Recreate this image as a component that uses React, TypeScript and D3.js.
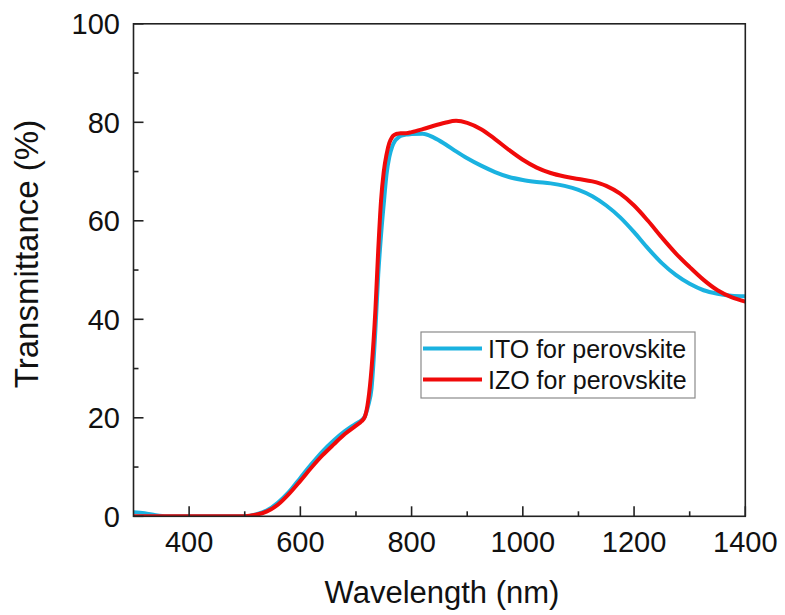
import React from "react";
import * as d3 from "d3";

// Wavelength grid (nm) shared by both spectra
const wavelengths = [
  300, 320, 340, 360, 400, 500, 520, 540, 560, 580, 600, 620, 640, 660, 680, 700, 710, 716, 722, 728,
  735, 740, 745, 750, 755, 760, 765, 770, 775, 780, 790, 800, 820, 840, 860, 880, 900, 925, 950, 975,
  1000, 1025, 1050, 1075, 1100, 1125, 1150, 1175, 1200, 1225, 1250, 1275, 1300, 1325, 1350, 1375, 1400,
];

// Transmittance (%) — ITO for perovskite
const itoValues = [
  0.8, 0.6, 0.2, 0, 0, 0, 0.4, 1.2, 2.8, 5.0, 7.8, 10.6, 13.2, 15.4, 17.3, 18.8, 19.5, 20.3, 22.5, 26,
  38, 49, 57, 63.5, 69.5, 73, 75, 76.2, 76.8, 77.2, 77.5, 77.6, 77.7, 76.9, 75.6, 74.1, 72.7, 71.2, 69.9, 68.9,
  68.3, 67.9, 67.6, 67.1, 66.3, 65.0, 63.1, 60.7, 57.7, 54.4, 51.4, 49.0, 47.2, 45.9, 45.2, 44.8, 44.7,
];

// Transmittance (%) — IZO for perovskite
const izoValues = [
  0, 0, 0, 0, 0, 0, 0.3, 1.0, 2.4, 4.6, 7.2, 9.9, 12.4, 14.6, 16.7, 18.4, 19.3, 20.2, 23.5, 30,
  42, 54, 64, 70, 73.5, 75.8, 77, 77.5, 77.7, 77.8, 77.8, 78.0, 78.6, 79.3, 79.9, 80.3, 79.9, 78.6, 76.6, 74.4,
  72.4, 70.8, 69.7, 69.0, 68.5, 68.0, 67.1, 65.5, 63.1, 60.0, 56.6, 53.4, 50.6, 48.0, 45.9, 44.5, 43.6,
];

const xMajorTicks = [400, 600, 800, 1000, 1200, 1400];
const xMinorTicks = [500, 700, 900, 1100, 1300];
const yMajorTicks = [0, 20, 40, 60, 80, 100];
const yMinorTicks = [10, 30, 50, 70, 90];

const seriesNames = ["ITO for perovskite", "IZO for perovskite"];
const seriesColors = ["#1ab2e0", "#f00a0a"];

const FONT = "Arial, 'Liberation Sans', Helvetica, sans-serif";

export default function App() {
  const width = 785;
  const height = 615;
  const left = 133.5;
  const right = 745.3;
  const top = 23.8;
  const bottom = 516.3;

  const x = d3.scaleLinear().domain([300, 1400]).range([left, right]);
  const y = d3.scaleLinear().domain([0, 100]).range([bottom, top]);

  const line = d3
    .line<number>()
    .x((_, i) => x(wavelengths[i]))
    .y((d) => y(d))
    .curve(d3.curveMonotoneX);

  const series = [itoValues, izoValues];
  const axisColor = "#222";

  return (
    <svg
      width={width}
      height={height}
      style={{ position: "absolute", left: 0, top: 0, background: "#fff" }}
      fontFamily={FONT}
    >
      <defs>
        <clipPath id="plot-clip">
          <rect x={left} y={top - 5} width={right - left} height={bottom - top + 5} />
        </clipPath>
      </defs>

      {/* spectra */}
      <g clipPath="url(#plot-clip)">
        {series.map((vals, k) => (
          <path
            key={k}
            d={line(vals) ?? ""}
            fill="none"
            stroke={seriesColors[k]}
            strokeWidth={4}
            strokeLinejoin="round"
            strokeLinecap="round"
          />
        ))}
      </g>

      {/* frame */}
      <rect
        x={left}
        y={top}
        width={right - left}
        height={bottom - top}
        fill="none"
        stroke={axisColor}
        strokeWidth={1.6}
      />

      {/* x ticks (inward) */}
      {xMajorTicks.map((t) => (
        <line key={`xM${t}`} x1={x(t)} x2={x(t)} y1={bottom} y2={bottom - 10} stroke={axisColor} strokeWidth={1.6} />
      ))}
      {xMinorTicks.map((t) => (
        <line key={`xm${t}`} x1={x(t)} x2={x(t)} y1={bottom} y2={bottom - 5} stroke={axisColor} strokeWidth={1.6} />
      ))}
      {/* y ticks (inward) */}
      {yMajorTicks.map((t) => (
        <line key={`yM${t}`} x1={left} x2={left + 10} y1={y(t)} y2={y(t)} stroke={axisColor} strokeWidth={1.6} />
      ))}
      {yMinorTicks.map((t) => (
        <line key={`ym${t}`} x1={left} x2={left + 5} y1={y(t)} y2={y(t)} stroke={axisColor} strokeWidth={1.6} />
      ))}

      {/* tick labels */}
      {xMajorTicks.map((t) => (
        <text key={`xl${t}`} x={x(t)} y={552} textAnchor="middle" fontSize={29} fill="#111">
          {t}
        </text>
      ))}
      {yMajorTicks.map((t) => (
        <text key={`yl${t}`} x={120} y={y(t)} dy="0.36em" textAnchor="end" fontSize={29} fill="#111">
          {t}
        </text>
      ))}

      {/* axis titles */}
      <text x={442} y={603} textAnchor="middle" fontSize={31} fill="#111">
        Wavelength (nm)
      </text>
      <text
        transform={`translate(38,254) rotate(-90)`}
        textAnchor="middle"
        fontSize={33}
        fill="#111"
      >
        Transmittance (%)
      </text>

      {/* legend */}
      <g>
        <rect x={421} y={332} width={274} height={66} fill="#fff" stroke="#8a8a8a" strokeWidth={1.2} />
        {seriesNames.map((name, k) => {
          const rowY = 348.5 + k * 31;
          return (
            <g key={name}>
              <line x1={423} x2={482} y1={rowY} y2={rowY} stroke={seriesColors[k]} strokeWidth={4} />
              <text x={488} y={rowY} dy="0.36em" fontSize={25} fill="#111">
                {name}
              </text>
            </g>
          );
        })}
      </g>
    </svg>
  );
}
